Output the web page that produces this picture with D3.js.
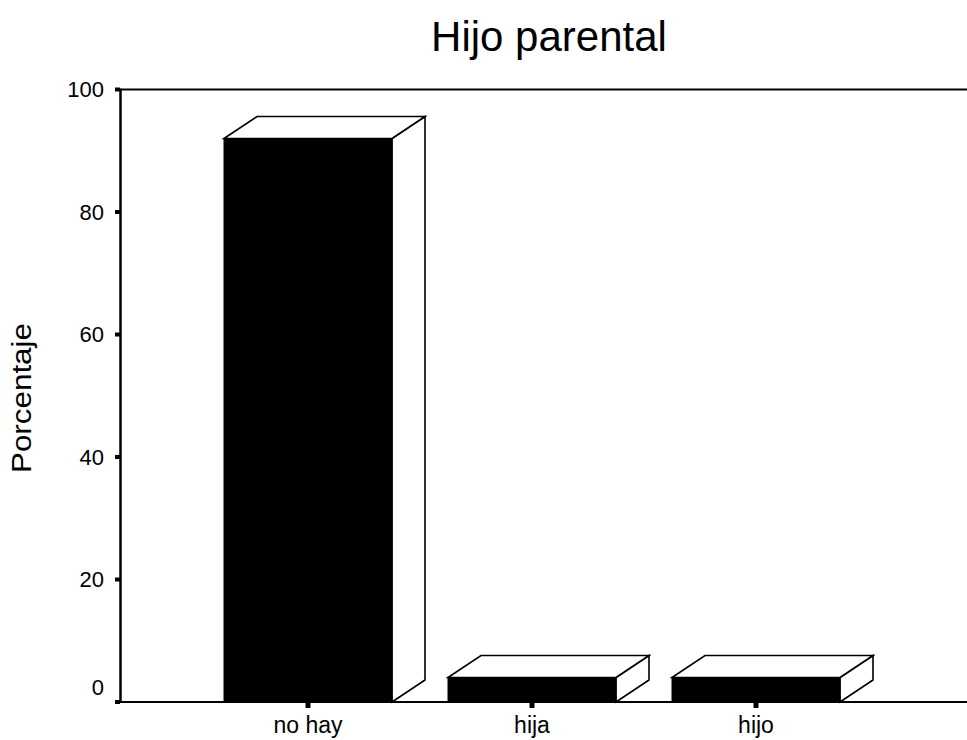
<!DOCTYPE html>
<html>
<head>
<meta charset="utf-8">
<script src="https://cdn.jsdelivr.net/npm/d3@7"></script>
<style>
  html, body { margin: 0; padding: 0; background: #fff; }
  svg { display: block; font-family: "Liberation Sans", Arial, sans-serif; }
</style>
</head>
<body>
<svg id="chart" width="967" height="740"></svg>
<script>
// Chart data
const categories = ["no hay", "hija", "hijo"];
const percentages = [92, 4, 4];
const yTicks = [0, 20, 40, 60, 80, 100];
const chartTitle = "Hijo parental";
const yAxisTitle = "Porcentaje";

(function () {
  const svg = d3.select("#chart");
  const W = 967;

  // Plot frame
  const plotLeft = 120.5, plotTop = 89.5, plotBottom = 702;
  const depthX = 33, depthY = 22;

  const y = d3.scaleLinear().domain([0, 100]).range([plotBottom, plotTop]);
  const x = d3.scaleBand()
    .domain(categories)
    .range([196, 868])
    .paddingInner(0.25)
    .paddingOuter(0.125);

  // Title
  svg.append("text")
    .attr("x", 549).attr("y", 51)
    .attr("text-anchor", "middle")
    .attr("font-size", 42)
    .text(chartTitle);

  // Y axis title (slightly wide lettering)
  svg.append("text")
    .attr("transform", `translate(31,398) rotate(-90)`)
    .attr("text-anchor", "middle")
    .attr("font-size", 27)
    .attr("textLength", 150)
    .attr("lengthAdjust", "spacingAndGlyphs")
    .text(yAxisTitle);

  // Frame lines: left axis, top border, baseline
  svg.append("line")
    .attr("x1", plotLeft).attr("x2", plotLeft)
    .attr("y1", plotTop - 1).attr("y2", plotBottom + 1)
    .attr("stroke", "#000").attr("stroke-width", 2.5);
  svg.append("line")
    .attr("x1", plotLeft).attr("x2", W)
    .attr("y1", plotTop).attr("y2", plotTop)
    .attr("stroke", "#000").attr("stroke-width", 2);
  svg.append("line")
    .attr("x1", plotLeft).attr("x2", W)
    .attr("y1", plotBottom).attr("y2", plotBottom)
    .attr("stroke", "#000").attr("stroke-width", 2);

  // Y ticks and labels
  const yt = svg.append("g").selectAll("g").data(yTicks).join("g");
  yt.append("rect")
    .attr("x", 115).attr("y", d => y(d) - 2)
    .attr("width", 5).attr("height", 4)
    .attr("fill", "#000");
  yt.append("text")
    .attr("x", 104)
    .attr("y", d => y(d))
    .attr("dy", d => d === 0 ? "-0.3em" : "0.35em")
    .attr("text-anchor", "end")
    .attr("font-size", 22)
    .text(d => d);

  // X ticks and labels
  const xt = svg.append("g").selectAll("g").data(categories).join("g");
  xt.append("rect")
    .attr("x", d => x(d) + x.bandwidth() / 2 - 2.5)
    .attr("y", plotBottom)
    .attr("width", 5).attr("height", 6)
    .attr("fill", "#000");
  xt.append("text")
    .attr("x", d => x(d) + x.bandwidth() / 2)
    .attr("y", 733)
    .attr("text-anchor", "middle")
    .attr("font-size", 23)
    .text(d => d);

  // 3D bars
  const data = categories.map((c, i) => ({ c, v: percentages[i] }));
  const bars = svg.append("g").selectAll("g").data(data).join("g");

  bars.each(function (d) {
    const g = d3.select(this);
    const x0 = x(d.c), x1 = x(d.c) + x.bandwidth();
    const yt0 = y(d.v);
    const pt = p => p.join(",");
    // side face
    g.append("polygon")
      .attr("points", [[x1, plotBottom], [x1 + depthX, plotBottom - depthY], [x1 + depthX, yt0 - depthY], [x1, yt0]].map(pt).join(" "))
      .attr("fill", "#fff").attr("stroke", "#000").attr("stroke-width", 1.6);
    // top face
    g.append("polygon")
      .attr("points", [[x0, yt0], [x0 + depthX, yt0 - depthY], [x1 + depthX, yt0 - depthY], [x1, yt0]].map(pt).join(" "))
      .attr("fill", "#fff").attr("stroke", "#000").attr("stroke-width", 1.6);
    // front face
    g.append("rect")
      .attr("x", x0).attr("y", yt0)
      .attr("width", x1 - x0).attr("height", plotBottom - yt0)
      .attr("fill", "#000").attr("stroke", "#000").attr("stroke-width", 1);
  });
})();
</script>
</body>
</html>
